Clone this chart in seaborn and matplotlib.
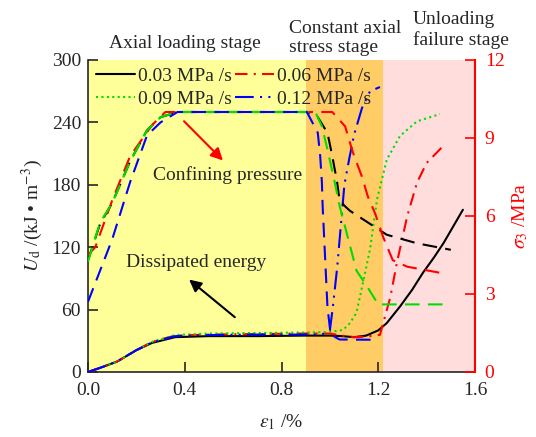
import matplotlib
matplotlib.use("Agg")
import matplotlib.pyplot as plt
import seaborn as sns
import pandas as pd
from matplotlib.lines import Line2D

# ---------------- data ----------------
# Dissipated energy U_d (kJ/m^3) vs axial strain (%)
e_03 = [0, 0.05, 0.12, 0.2, 0.265, 0.36, 0.5, 0.7, 0.9, 1.0, 1.05, 1.1, 1.15, 1.2, 1.235, 1.29, 1.34, 1.385, 1.43, 1.47, 1.525, 1.55]
u_03 = [0, 4, 10, 21, 28, 33.5, 34.5, 34.5, 35, 35, 34.5, 33.5, 35, 40, 47, 63, 79, 95.5, 110, 124, 146, 156]

e_06 = [0, 0.05, 0.12, 0.2, 0.265, 0.36, 0.5, 0.7, 0.9, 1.0, 1.05, 1.1, 1.15, 1.207, 1.25, 1.277, 1.32, 1.36, 1.40, 1.463]
u_06 = [0, 4, 10, 21, 29, 35, 36, 36.5, 37, 37, 35, 33.5, 34, 35.7, 72, 105, 150, 182, 201, 216]

e_09 = [0, 0.05, 0.12, 0.2, 0.265, 0.36, 0.5, 0.7, 0.9, 1.0, 1.055, 1.083, 1.11, 1.137, 1.166, 1.195, 1.235, 1.29, 1.36, 1.455]
u_09 = [0, 4, 10, 21, 29, 35.5, 37, 37.5, 38, 38.5, 40.5, 47, 57, 86, 118, 166, 204, 227, 241, 248]

e_12 = [0, 0.05, 0.12, 0.2, 0.265, 0.36, 0.5, 0.7, 0.9, 0.97, 1.0, 1.013, 1.03, 1.045, 1.06, 1.08, 1.1, 1.133, 1.166, 1.207]
u_12 = [0, 4, 10, 21, 28.5, 34.5, 35.5, 36, 36, 36.5, 40, 64, 100, 140, 180, 205, 228, 254, 270, 274]

# Confining pressure sigma_3 (MPa) vs axial strain (%)
ce_03 = [0, 0.05, 0.1, 0.174, 0.244, 0.3, 0.37, 0.6, 0.91, 0.95, 0.99, 1.01, 1.03, 1.04, 1.063, 1.083, 1.235, 1.36, 1.5]
cs_03 = [4.3, 5.7, 6.5, 8.1, 9.3, 9.8, 10, 10, 10, 9.8, 9.2, 8.3, 7.3, 6.6, 6.37, 6.2, 5.28, 4.95, 4.7]

ce_06 = [0, 0.03, 0.1, 0.174, 0.265, 0.32, 0.6, 1.01, 1.063, 1.095, 1.133, 1.157, 1.187, 1.22, 1.26, 1.32, 1.476]
cs_06 = [4.5, 4.8, 6.6, 8.3, 9.5, 10, 10, 10, 9.45, 8.45, 7.5, 6.75, 6.1, 5.2, 4.3, 4.05, 3.78]

ce_09 = [0, 0.05, 0.1, 0.174, 0.244, 0.3, 0.37, 0.6, 0.94, 0.967, 0.99, 1.02, 1.04, 1.11, 1.153, 1.2, 1.47]
cs_09 = [4.25, 5.75, 6.5, 8.1, 9.3, 9.8, 10, 10, 10, 9.45, 8.56, 7.3, 6.4, 3.9, 3.3, 2.6, 2.6]

ce_12 = [0, 0.05, 0.1, 0.174, 0.244, 0.3, 0.37, 0.6, 0.905, 0.95, 0.96, 0.967, 0.97, 0.99, 1.0, 1.02, 1.04, 1.17]
cs_12 = [2.7, 3.9, 5.1, 7.3, 9.1, 9.6, 10, 10, 10, 9.2, 8.3, 7.3, 6.4, 2.5, 1.7, 1.35, 1.25, 1.24]

labels = ["0.03 MPa /s", "0.06 MPa /s", "0.09 MPa /s", "0.12 MPa /s"]
stage_bounds = [0.0, 0.9, 1.22, 1.6]

# ---------------- style ----------------
sns.set_style("ticks")
plt.rcParams["font.family"] = ["Liberation Serif", "DejaVu Serif"]
plt.rcParams["mathtext.fontset"] = "stix"
FS = 14
plt.rcParams["font.size"] = FS

colors = ["black", "red", "#00dd00", "blue"]
e_styles = ["-", (0, (6, 3, 1, 3)), (0, (1, 1.6)), (0, (9, 3, 1, 3, 1, 3))]
c_style = (0, (7, 4))

fig = plt.figure(figsize=(5.36, 4.37), dpi=100)
ax = fig.add_axes([88 / 536, 1 - 372 / 437, 387 / 536, 312 / 437])
ax2 = ax.twinx()

bg = ["#ffff99", "#ffcc66", "#ffdddd"]
for i in range(3):
    ax.axvspan(stage_bounds[i], stage_bounds[i + 1], color=bg[i], lw=0, zorder=0)

E = [(e_03, u_03), (e_06, u_06), (e_09, u_09), (e_12, u_12)]
C = [(ce_03, cs_03), (ce_06, cs_06), (ce_09, cs_09), (ce_12, cs_12)]

for (x, y), col, ls in zip(E, colors, e_styles):
    df = pd.DataFrame({"e": x, "u": y})
    sns.lineplot(data=df, x="e", y="u", ax=ax, color=col, linestyle=ls, lw=1.5,
                 sort=False, estimator=None, zorder=3)

for (x, y), col in zip(C, colors):
    df = pd.DataFrame({"e": x, "s": y})
    sns.lineplot(data=df, x="e", y="s", ax=ax2, color=col, linestyle=c_style, lw=1.5,
                 sort=False, estimator=None, zorder=3)

ax.set_xlim(0, 1.6)
ax.set_ylim(0, 300)
ax2.set_ylim(0, 12)
ax.set_xticks([0.0, 0.4, 0.8, 1.2, 1.6])
ax.set_xticklabels(["0.0", "0.4", "0.8", "1.2", "1.6"])
ax.set_yticks(range(0, 301, 60))
ax2.set_yticks(range(0, 13, 3))

ax.tick_params(axis="x", direction="in", length=7, width=1.2, labelsize=FS, pad=7)
ax.tick_params(axis="y", direction="in", length=7, width=1.2, labelsize=FS, pad=5)
ax2.tick_params(axis="y", direction="in", length=7, width=1.2, labelsize=FS,
                colors="red", pad=7)

for a in (ax, ax2):
    a.spines["top"].set_visible(False)
ax.spines["right"].set_visible(False)
ax2.spines["left"].set_visible(False)
ax2.spines["bottom"].set_visible(False)
ax2.spines["right"].set_color("red")
ax2.spines["right"].set_linewidth(1.5)
ax.spines["left"].set_linewidth(1.2)
ax.spines["bottom"].set_linewidth(1.2)

ax.set_xlabel(r"$\varepsilon_{\rm 1}$ /%", fontsize=FS, labelpad=10)
ax.set_ylabel(r"$U_{\rm d}$ /(kJ • m$^{-3}$)", fontsize=FS, labelpad=5)
ax2.set_ylabel(r"$\sigma_3$ /MPa", fontsize=FS, color="red", labelpad=4)

order = [0, 2, 1, 3]
handles = [Line2D([], [], color=colors[i], linestyle=e_styles[i], lw=1.5) for i in order]
ax.legend(handles, [labels[i] for i in order], loc="upper left", bbox_to_anchor=(0.01, 0.99),
          ncol=2, frameon=False, fontsize=FS, handlelength=2.0, handletextpad=0.15,
          columnspacing=0.2, labelspacing=0.3, borderaxespad=0, borderpad=0.2)

# annotations
ax.annotate("", xy=(0.566, 201.5), xytext=(0.389, 243),
            arrowprops=dict(arrowstyle="-|>", color="red", lw=1.5, mutation_scale=18))
ax.text(0.579, 189, "Confining pressure", ha="center", va="center", fontsize=FS)
ax.annotate("", xy=(0.409, 90.6), xytext=(0.616, 51),
            arrowprops=dict(arrowstyle="-|>", color="black", lw=1.5, mutation_scale=18))
ax.text(0.446, 105, "Dissipated energy", ha="center", va="center", fontsize=FS)

# stage labels
fig.text(185 / 536, 1 - 43 / 437, "Axial loading stage", ha="center", va="center", fontsize=FS)
fig.text(289 / 536, 1 - 38 / 437, "Constant axial\nstress stage", ha="left", va="center",
         fontsize=FS, linespacing=1.15)
fig.text(413 / 536, 1 - 30 / 437, "Unloading\nfailure stage", ha="left", va="center",
         fontsize=FS, linespacing=1.25)

fig.savefig("out.png", dpi=100)
